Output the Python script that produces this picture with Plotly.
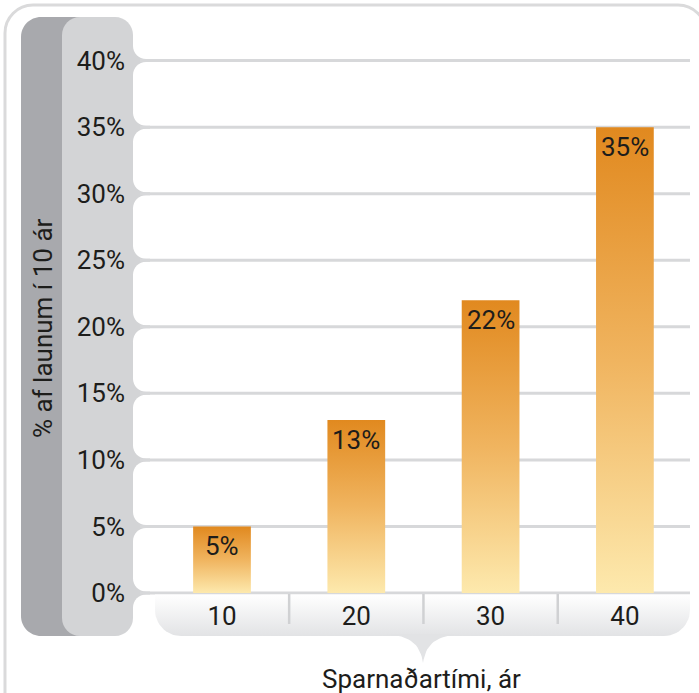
import numpy as np
import plotly.graph_objects as go

W, H = 699, 693

# ---- data -------------------------------------------------------------
categories = ["10", "20", "30", "40"]          # savings period, years
values = [5, 13, 22, 35]                        # % of salary over 10 years
y_ticks = [0, 5, 10, 15, 20, 25, 30, 35, 40]
y_tick_labels = [f"{t}%" for t in y_ticks]
y_title = "% af launum í 10 ár"
x_title = "Sparnaðartími, ár"

# ---- scale: the plot area fills the whole canvas -----------------------
X0_PX, X_STEP = 222.0, 134.3     # pixel of first category, pixels per category
Y0_PX, Y_STEP = 593.0, 13.31     # pixel of 0 %, pixels per 1 %
x_range = [(0 - X0_PX) / X_STEP, (W - X0_PX) / X_STEP]
y_range = [(Y0_PX - H) / Y_STEP, Y0_PX / Y_STEP]

FONT = "Roboto"
INK = "#1d1d1b"
BAND_DARK = "#a8a9ad"
BAND_LIGHT = "#d3d4d6"
GRID = "#d7d8da"
ORANGE = "#e1891f"
PALE = "#fde9ad"


def to_data(px, py):
    return (np.asarray(px) - X0_PX) / X_STEP, (Y0_PX - np.asarray(py)) / Y_STEP


def pp(x, y):
    return f"{x / W:.5f},{1 - y / H:.5f}"


def rrect_path(x0, y0, x1, y1, rtl=0, rtr=0, rbr=0, rbl=0):
    k = 0.5523
    s = f"M{pp(x0 + rtl, y0)} L{pp(x1 - rtr, y0)} "
    s += f"C{pp(x1 - rtr + k * rtr, y0)} {pp(x1, y0 + rtr - k * rtr)} {pp(x1, y0 + rtr)} "
    s += f"L{pp(x1, y1 - rbr)} "
    s += f"C{pp(x1, y1 - rbr + k * rbr)} {pp(x1 - rbr + k * rbr, y1)} {pp(x1 - rbr, y1)} "
    s += f"L{pp(x0 + rbl, y1)} "
    s += f"C{pp(x0 + rbl - k * rbl, y1)} {pp(x0, y1 - rbl + k * rbl)} {pp(x0, y1 - rbl)} "
    s += f"L{pp(x0, y0 + rtl)} "
    s += f"C{pp(x0, y0 + rtl - k * rtl)} {pp(x0 + rtl - k * rtl, y0)} {pp(x0 + rtl, y0)} Z"
    return s


def rrect_poly(x0, y0, x1, y1, rtl=0, rtr=0, rbr=0, rbl=0, n=14):
    xs, ys = [], []
    corners = [
        (x0 + rtl, y0 + rtl, rtl, np.pi, 1.5 * np.pi),
        (x1 - rtr, y0 + rtr, rtr, 1.5 * np.pi, 2 * np.pi),
        (x1 - rbr, y1 - rbr, rbr, 0, 0.5 * np.pi),
        (x0 + rbl, y1 - rbl, rbl, 0.5 * np.pi, np.pi),
    ]
    for cx, cy, r, a0, a1 in corners:
        a = np.linspace(a0, a1, n)
        xs.extend(cx + r * np.cos(a))
        ys.extend(cy + r * np.sin(a))
    xs.append(xs[0])
    ys.append(ys[0])
    return to_data(xs, ys)


def bezier(p0, p1, p2, p3, n=20):
    t = np.linspace(0, 1, n)[:, None]
    p0, p1, p2, p3 = map(np.array, (p0, p1, p2, p3))
    return ((1 - t) ** 3 * p0 + 3 * (1 - t) ** 2 * t * p1
            + 3 * (1 - t) * t ** 2 * p2 + t ** 3 * p3)


def paper_path(path, **kw):
    d = dict(type="path", xref="paper", yref="paper", path=path, layer="below")
    d.update(kw)
    return d


grid_px = [Y0_PX - t * Y_STEP for t in y_ticks]

shapes = []
# label bands on the left
shapes.append(paper_path(rrect_path(21, 17, 90, 636, 20, 0, 0, 20),
                         fillcolor=BAND_DARK, line_width=0))
shapes.append(paper_path(rrect_path(62, 17, 133, 636, 18, 18, 18, 18),
                         fillcolor=BAND_LIGHT, line_width=0))
shapes.append(dict(type="rect", xref="paper", yref="paper",
                   x0=120 / W, x1=150 / W, y0=1 - 607 / H, y1=1 - 44 / H,
                   fillcolor=BAND_LIGHT, line_width=0, layer="below"))

# white rows between grid lines, rounded at the band edge
RR = 13
rows = [(10, grid_px[-1] - 1.5)]
for lo, hi in zip(grid_px[1:], grid_px[:-1]):
    rows.append((lo + 1.5, hi - 1.5))
rows.append((grid_px[0] + 1.5, H + 10))
for top, bot in rows:
    rtl = 0 if top <= 10 else RR
    rbl = 0 if bot >= H else RR
    shapes.append(paper_path(rrect_path(133, top, W + 10, bot, rtl, 0, 0, rbl),
                             fillcolor="white", line_width=0))

# grid lines
for t in y_ticks:
    shapes.append(dict(type="line", xref="paper", yref="y", x0=140 / W, x1=690 / W,
                       y0=t, y1=t, line=dict(color=GRID, width=3), layer="below"))

# frame around the panel
k = 0.5523
frame = (f"M{pp(5, H + 10)} L{pp(5, 33)} C{pp(5, 33 - 28 * k)} {pp(33 - 28 * k, 5)} {pp(33, 5)} "
         f"L{pp(678, 5)} C{pp(678 + 28 * k, 5)} {pp(706, 33 - 28 * k)} {pp(706, 33)} L{pp(706, H + 10)}")
shapes.append(paper_path(frame, line=dict(color="#dadadb", width=3),
                         fillcolor="rgba(0,0,0,0)"))

# separators between category labels
for i in range(len(categories) - 1):
    shapes.append(dict(type="line", xref="x", yref="paper", x0=i + 0.5, x1=i + 0.5,
                       y0=1 - 594 / H, y1=1 - 624 / H,
                       line=dict(color="#d0d1d3", width=2.5), layer="above"))

fig = go.Figure()

# category label band with soft gradient
bx, by = rrect_poly(155, 594.5, 690, 636, 0, 0, 26, 26)
fig.add_trace(go.Scatter(x=bx, y=by, mode="lines", fill="toself", line=dict(width=0),
                         fillgradient=dict(type="vertical",
                                           colorscale=[[0, "#e2e3e5"], [1, "#ffffff"]]),
                         hoverinfo="skip"))

# pointer under the band
left = bezier((386, 634), (408, 636), (420, 642), (423, 663))
right = bezier((423, 663), (426, 642), (438, 636), (460, 634))
pts = np.vstack([left, right, left[:1]])
nx, ny = to_data(pts[:, 0], pts[:, 1])
fig.add_trace(go.Scatter(x=nx, y=ny, mode="lines", fill="toself", line=dict(width=0),
                         fillcolor="#e2e3e5", hoverinfo="skip"))

# bars with vertical orange gradient
BAR_W = 0.43
for i, v in enumerate(values):
    fig.add_trace(go.Scatter(
        x=[i - BAR_W / 2, i + BAR_W / 2, i + BAR_W / 2, i - BAR_W / 2, i - BAR_W / 2],
        y=[0, 0, v, v, 0], mode="lines", fill="toself", line=dict(width=0),
        fillgradient=dict(type="vertical",
                          colorscale=[[0, PALE], [0.5, "#f0b45f"], [1, ORANGE]]),
        hoverinfo="skip"))

annotations = []
for i, v in enumerate(values):
    annotations.append(dict(x=i, y=v, xref="x", yref="y", text=f"{v}%", showarrow=False,
                            yanchor="top", yshift=-3,
                            font=dict(family=FONT, size=26, color=INK)))
annotations.append(dict(x=43 / W, y=1 - 328 / H, xref="paper", yref="paper", text=y_title,
                        textangle=-90, showarrow=False, xanchor="center", yanchor="middle",
                        font=dict(family=FONT, size=26, color=INK)))
annotations.append(dict(x=421 / W, y=1 - 679 / H, xref="paper", yref="paper", text=x_title,
                        showarrow=False, xanchor="center", yanchor="middle",
                        font=dict(family=FONT, size=26, color=INK)))

fig.update_layout(
    width=W, height=H, margin=dict(l=0, r=0, t=0, b=0),
    paper_bgcolor="white", plot_bgcolor="rgba(0,0,0,0)",
    showlegend=False, shapes=shapes, annotations=annotations,
    xaxis=dict(range=x_range, domain=[0, 1], anchor="free", position=1 - 598 / H,
               tickmode="array", tickvals=list(range(len(categories))), ticktext=categories,
               showgrid=False, zeroline=False, showline=False, ticks="",
               ticklabelstandoff=0, tickfont=dict(family=FONT, size=26, color=INK),
               fixedrange=True),
    yaxis=dict(range=y_range, domain=[0, 1], anchor="free", position=133 / W,
               tickmode="array", tickvals=y_ticks, ticktext=y_tick_labels,
               showgrid=False, zeroline=False, showline=False, ticks="",
               ticklabelstandoff=8, tickfont=dict(family=FONT, size=26, color=INK),
               fixedrange=True),
)

fig.write_html("out.html")
